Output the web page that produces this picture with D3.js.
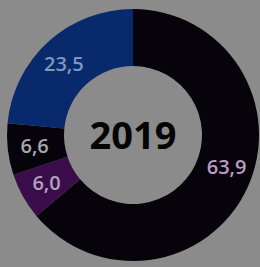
<!DOCTYPE html>
<html>
<head>
<meta charset="utf-8">
<script src="https://cdn.jsdelivr.net/npm/d3@7"></script>
<style>
  html, body { margin: 0; padding: 0; background: #8b8b8b; }
  #chart { width: 260px; height: 267px; }
</style>
</head>
<body>
<div id="chart"></div>
<script>
const categories = ["a", "b", "c", "d"];
const values = [63.9, 6.0, 6.6, 23.5];
const valueLabels = ["63,9", "6,0", "6,6", "23,5"];
const centerLabel = "2019";

const sliceColors = ["#07030a", "#3a0c4a", "#07030a", "#08296c"];
const labelColors = ["#b99dc2", "#b3a1bc", "#a8a8aa", "#7d98ba"];
// the 63,9 label sits a bit before its slice middle in the original
const labelAngleShift = [-6, 0, 0, -2];

function drawChart() {
    const width = 260;
    const height = 267;
    const cx = 133;
    const cy = 135;
    const outerR = 126;
    const innerR = 69;

    const svg = d3.select("#chart")
        .append("svg")
        .attr("width", width)
        .attr("height", height);

    const g = svg.append("g")
        .attr("transform", `translate(${cx},${cy})`);

    const pie = d3.pie().sort(null).value(d => d.value);
    const arc = d3.arc().innerRadius(innerR).outerRadius(outerR);
    const labelArc = d3.arc().innerRadius(99).outerRadius(99);

    const data = categories.map((c, i) => ({ name: c, value: values[i], label: valueLabels[i] }));
    const arcs = pie(data);

    g.selectAll("path.slice")
        .data(arcs)
        .join("path")
        .attr("class", "slice")
        .attr("d", arc)
        .attr("fill", (d, i) => sliceColors[i]);

    g.selectAll("text.val")
        .data(arcs)
        .join("text")
        .attr("class", "val")
        .attr("transform", (d, i) => {
            const s = labelAngleShift[i] * Math.PI / 180;
            const p = labelArc.centroid({ startAngle: d.startAngle + s, endAngle: d.endAngle + s });
            return `translate(${p})`;
        })
        .attr("text-anchor", "middle")
        .attr("dy", "0.36em")
        .attr("font-family", "'Open Sans', sans-serif")
        .attr("font-weight", 600)
        .attr("font-size", 20)
        .attr("fill", (d, i) => labelColors[i])
        .text(d => d.data.label);

    g.append("text")
        .attr("text-anchor", "middle")
        .attr("dy", "0.36em")
        .attr("font-family", "'Open Sans', sans-serif")
        .attr("font-weight", 700)
        .attr("font-size", 38)
        .attr("fill", "#050505")
        .text(centerLabel);
}

document.addEventListener('DOMContentLoaded', drawChart);
</script>
</body>
</html>
